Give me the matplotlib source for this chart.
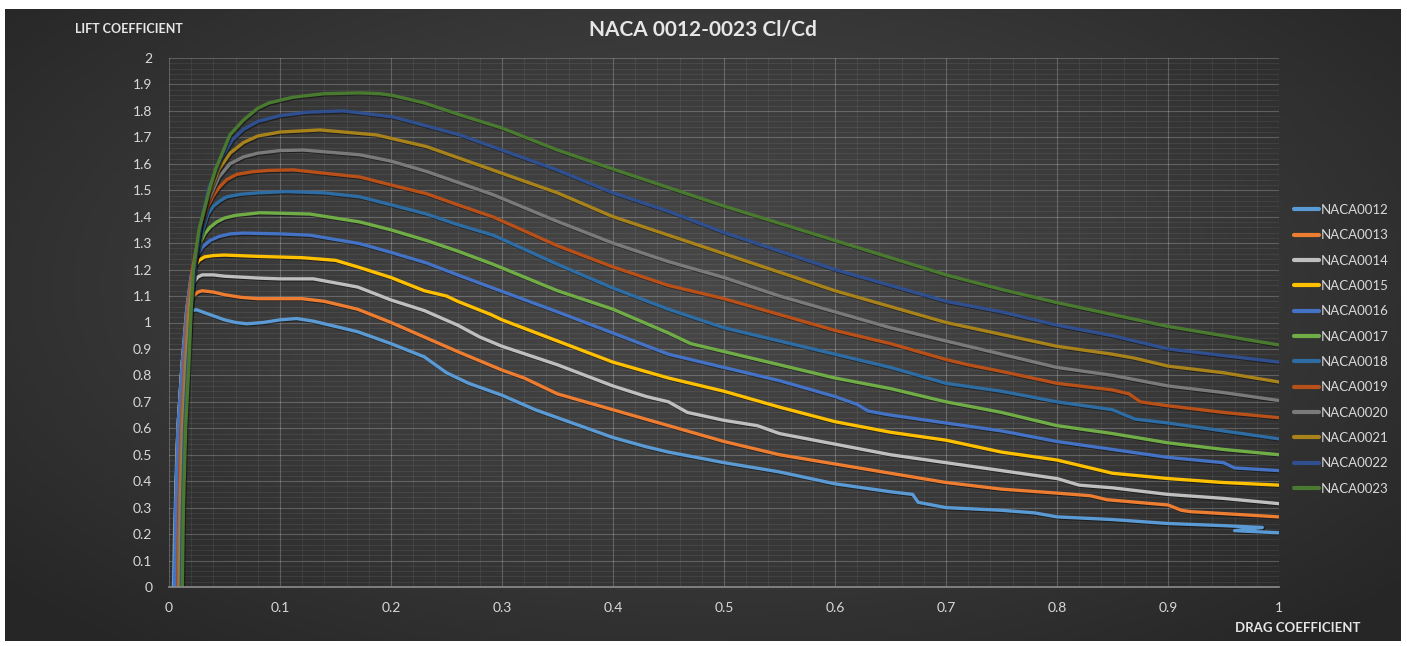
import numpy as np
import matplotlib.pyplot as plt
from matplotlib import patheffects as pe
from matplotlib.colors import LinearSegmentedColormap
from matplotlib.ticker import AutoMinorLocator, FuncFormatter

plt.rcParams['font.family'] = ['Lato', 'DejaVu Sans']

# values (drag coefficient, lift coefficient)
series_names = ["NACA0012", "NACA0013", "NACA0014", "NACA0015", "NACA0016", "NACA0017",
                "NACA0018", "NACA0019", "NACA0020", "NACA0021", "NACA0022", "NACA0023"]
colors = ["#5b9bd5", "#ed7d31", "#bfbfbf", "#ffc000", "#4472c4", "#70ad47",
          "#2e6da4", "#b8501a", "#7a7a7a", "#a8821a", "#2f4f8f", "#4a7a30"]

cd_0012 = [0.004, 0.005, 0.007, 0.011, 0.015, 0.018, 0.02, 0.025, 0.03, 0.04, 0.05, 0.06, 0.07, 0.085, 0.1,
           0.115, 0.13, 0.15, 0.17, 0.2, 0.23, 0.25, 0.27, 0.3, 0.33, 0.35, 0.37, 0.4, 0.43, 0.45, 0.5,
           0.55, 0.6, 0.65, 0.67, 0.675, 0.7, 0.75, 0.78, 0.8, 0.85, 0.9, 0.95, 0.985, 0.96, 1.0]
cl_0012 = [0, 0.2, 0.5, 0.8, 0.97, 1.02, 1.045, 1.048, 1.04, 1.025, 1.01, 1.0, 0.995, 1.0, 1.01,
           1.015, 1.005, 0.985, 0.965, 0.92, 0.87, 0.81, 0.77, 0.725, 0.67, 0.64, 0.61, 0.565, 0.53, 0.51, 0.47,
           0.435, 0.39, 0.36, 0.35, 0.32, 0.3, 0.29, 0.28, 0.265, 0.255, 0.24, 0.232, 0.225, 0.213, 0.205]

cd_0013 = [0.007, 0.008, 0.01, 0.013, 0.017, 0.02, 0.022, 0.026, 0.03, 0.04, 0.05, 0.065, 0.08, 0.12, 0.14,
           0.17, 0.2, 0.23, 0.26, 0.3, 0.32, 0.335, 0.35, 0.4, 0.45, 0.5, 0.55, 0.6, 0.65, 0.7, 0.75,
           0.8, 0.83, 0.845, 0.9, 0.912, 0.92, 1.0]
cl_0013 = [0, 0.3, 0.6, 0.85, 1.02, 1.08, 1.1, 1.115, 1.12, 1.115, 1.105, 1.095, 1.09, 1.09, 1.08,
           1.05, 1.0, 0.945, 0.89, 0.82, 0.79, 0.76, 0.73, 0.67, 0.61, 0.55, 0.5, 0.465, 0.43, 0.395, 0.37,
           0.355, 0.345, 0.33, 0.31, 0.29, 0.285, 0.265]

cd_0014 = [0.005, 0.006, 0.008, 0.012, 0.016, 0.019, 0.022, 0.026, 0.03, 0.04, 0.05, 0.08, 0.1, 0.13, 0.17,
           0.2, 0.23, 0.26, 0.28, 0.3, 0.35, 0.4, 0.43, 0.45, 0.467, 0.5, 0.53, 0.55, 0.6, 0.65, 0.7,
           0.75, 0.8, 0.82, 0.85, 0.9, 0.95, 1.0]
cl_0014 = [0, 0.3, 0.6, 0.85, 1.02, 1.1, 1.15, 1.172, 1.18, 1.18, 1.175, 1.168, 1.165, 1.165, 1.134,
           1.085, 1.045, 0.99, 0.945, 0.91, 0.84, 0.76, 0.72, 0.7, 0.66, 0.63, 0.61, 0.58, 0.54, 0.5, 0.47,
           0.44, 0.41, 0.385, 0.375, 0.35, 0.335, 0.315]

cd_0015 = [0.005, 0.006, 0.008, 0.012, 0.016, 0.02, 0.023, 0.027, 0.032, 0.04, 0.05, 0.08, 0.12, 0.15, 0.17,
           0.2, 0.23, 0.25, 0.26, 0.29, 0.3, 0.35, 0.4, 0.45, 0.5, 0.55, 0.6, 0.65, 0.7, 0.75, 0.8,
           0.83, 0.85, 0.9, 0.95, 1.0]
cl_0015 = [0, 0.3, 0.6, 0.85, 1.05, 1.17, 1.21, 1.235, 1.248, 1.253, 1.255, 1.25, 1.245, 1.235, 1.21,
           1.17, 1.12, 1.1, 1.08, 1.03, 1.01, 0.93, 0.85, 0.79, 0.74, 0.68, 0.625, 0.585, 0.555, 0.51, 0.48,
           0.45, 0.43, 0.41, 0.395, 0.385]

cd_0016 = [0.005, 0.006, 0.008, 0.012, 0.016, 0.02, 0.025, 0.03, 0.037, 0.045, 0.055, 0.067, 0.1, 0.127,
           0.172, 0.2, 0.232, 0.26, 0.292, 0.35, 0.4, 0.45, 0.5, 0.55, 0.6, 0.62, 0.63, 0.65, 0.7, 0.75,
           0.8, 0.85, 0.9, 0.95, 0.96, 1.0]
cl_0016 = [0, 0.3, 0.6, 0.85, 1.05, 1.18, 1.25, 1.285, 1.31, 1.325, 1.335, 1.338, 1.335, 1.33,
           1.298, 1.265, 1.225, 1.18, 1.13, 1.04, 0.96, 0.88, 0.83, 0.78, 0.72, 0.69, 0.665, 0.65, 0.62, 0.59,
           0.55, 0.52, 0.49, 0.47, 0.45, 0.44]

cd_0017 = [0.009, 0.01, 0.012, 0.015, 0.018, 0.022, 0.028, 0.032, 0.037, 0.043, 0.05, 0.06, 0.082, 0.127,
           0.172, 0.2, 0.232, 0.26, 0.292, 0.35, 0.4, 0.45, 0.47, 0.5, 0.55, 0.6, 0.65, 0.7, 0.75, 0.8,
           0.85, 0.9, 0.95, 1.0]
cl_0017 = [0, 0.3, 0.6, 0.85, 1.05, 1.2, 1.3, 1.335, 1.36, 1.38, 1.395, 1.405, 1.415, 1.41,
           1.38, 1.35, 1.31, 1.27, 1.22, 1.12, 1.05, 0.96, 0.92, 0.89, 0.84, 0.79, 0.75, 0.7, 0.66, 0.61,
           0.58, 0.545, 0.52, 0.5]

cd_0018 = [0.009, 0.01, 0.012, 0.015, 0.018, 0.022, 0.028, 0.035, 0.04, 0.046, 0.052, 0.065, 0.08, 0.106,
           0.14, 0.172, 0.2, 0.232, 0.26, 0.292, 0.35, 0.4, 0.45, 0.5, 0.55, 0.6, 0.65, 0.7, 0.75, 0.8,
           0.85, 0.87, 0.9, 0.95, 1.0]
cl_0018 = [0, 0.3, 0.6, 0.85, 1.05, 1.2, 1.32, 1.41, 1.44, 1.46, 1.475, 1.485, 1.49, 1.495,
           1.49, 1.475, 1.445, 1.41, 1.37, 1.33, 1.22, 1.13, 1.05, 0.98, 0.93, 0.88, 0.83, 0.77, 0.74, 0.7,
           0.67, 0.635, 0.62, 0.59, 0.56]

cd_0019 = [0.008, 0.009, 0.011, 0.014, 0.017, 0.021, 0.027, 0.035, 0.04, 0.045, 0.052, 0.061, 0.075, 0.09,
           0.112, 0.172, 0.2, 0.232, 0.26, 0.292, 0.35, 0.4, 0.45, 0.5, 0.55, 0.6, 0.65, 0.7, 0.72, 0.75,
           0.8, 0.85, 0.865, 0.875, 0.9, 0.95, 1.0]
cl_0019 = [0, 0.3, 0.6, 0.85, 1.05, 1.2, 1.33, 1.44, 1.48, 1.51, 1.54, 1.56, 1.57, 1.575,
           1.577, 1.55, 1.52, 1.487, 1.445, 1.399, 1.29, 1.21, 1.14, 1.09, 1.03, 0.97, 0.92, 0.86, 0.84, 0.815,
           0.77, 0.745, 0.73, 0.7, 0.685, 0.66, 0.64]

cd_0020 = [0.009, 0.01, 0.012, 0.015, 0.018, 0.022, 0.027, 0.035, 0.045, 0.055, 0.067, 0.08, 0.1, 0.121,
           0.172, 0.2, 0.232, 0.26, 0.292, 0.35, 0.4, 0.45, 0.5, 0.55, 0.6, 0.65, 0.7, 0.75, 0.8, 0.85,
           0.9, 0.95, 1.0]
cl_0020 = [0, 0.3, 0.6, 0.85, 1.05, 1.2, 1.34, 1.46, 1.55, 1.6, 1.626, 1.64, 1.65, 1.652,
           1.634, 1.61, 1.571, 1.53, 1.483, 1.382, 1.3, 1.23, 1.17, 1.1, 1.04, 0.98, 0.93, 0.88, 0.83, 0.8,
           0.76, 0.735, 0.705]

cd_0021 = [0.01, 0.011, 0.013, 0.016, 0.019, 0.023, 0.028, 0.035, 0.045, 0.055, 0.067, 0.08, 0.1, 0.136,
           0.187, 0.232, 0.292, 0.35, 0.4, 0.45, 0.5, 0.55, 0.6, 0.65, 0.7, 0.75, 0.8, 0.85, 0.87, 0.9,
           0.95, 1.0]
cl_0021 = [0, 0.3, 0.6, 0.85, 1.05, 1.22, 1.36, 1.48, 1.58, 1.64, 1.68, 1.705, 1.72, 1.728,
           1.709, 1.665, 1.576, 1.49, 1.4, 1.33, 1.26, 1.19, 1.12, 1.06, 1.0, 0.955, 0.91, 0.88, 0.865, 0.835,
           0.81, 0.775]

cd_0022 = [0.011, 0.012, 0.014, 0.017, 0.02, 0.024, 0.029, 0.036, 0.047, 0.057, 0.067, 0.08, 0.1, 0.125,
           0.157, 0.202, 0.262, 0.35, 0.4, 0.45, 0.5, 0.55, 0.6, 0.65, 0.7, 0.75, 0.8, 0.85, 0.9, 0.95, 1.0]
cl_0022 = [0, 0.3, 0.6, 0.85, 1.05, 1.23, 1.38, 1.51, 1.62, 1.69, 1.73, 1.76, 1.782, 1.795,
           1.8, 1.777, 1.709, 1.576, 1.49, 1.42, 1.34, 1.27, 1.2, 1.14, 1.08, 1.04, 0.99, 0.95, 0.9, 0.875, 0.85]

cd_0023 = [0.012, 0.013, 0.015, 0.018, 0.02, 0.022, 0.027, 0.032, 0.037, 0.042, 0.048, 0.055, 0.067, 0.08,
           0.09, 0.112, 0.14, 0.172, 0.19, 0.202, 0.23, 0.262, 0.3, 0.35, 0.4, 0.45, 0.5, 0.55, 0.6, 0.65,
           0.7, 0.75, 0.8, 0.85, 0.9, 0.95, 1.0]
cl_0023 = [0, 0.3, 0.6, 0.85, 1.05, 1.2, 1.35, 1.43, 1.512, 1.58, 1.64, 1.71, 1.765, 1.81,
           1.83, 1.852, 1.865, 1.868, 1.865, 1.858, 1.83, 1.785, 1.735, 1.652, 1.58, 1.51, 1.44, 1.375, 1.31,
           1.245, 1.18, 1.125, 1.075, 1.03, 0.985, 0.95, 0.915]

all_cd = [cd_0012, cd_0013, cd_0014, cd_0015, cd_0016, cd_0017, cd_0018, cd_0019, cd_0020, cd_0021, cd_0022, cd_0023]
all_cl = [cl_0012, cl_0013, cl_0014, cl_0015, cl_0016, cl_0017, cl_0018, cl_0019, cl_0020, cl_0021, cl_0022, cl_0023]

W, H = 1407, 646
fig = plt.figure(figsize=(W / 100, H / 100), dpi=100)
fig.patch.set_facecolor('white')

# dark radial-gradient chart background
bg = fig.add_axes([5 / W, 5 / H, (1401 - 5) / W, (639 - 7) / H])
yy, xx = np.mgrid[-1:1:200j, -1:1:400j]
r = np.clip(np.sqrt((xx * 0.9) ** 2 + (yy * 0.8 + 0.1) ** 2), 0, 1.2)
cmap = LinearSegmentedColormap.from_list('bg', ['#484848', '#3a3a3a', '#262626'])
bg.imshow(r, cmap=cmap, aspect='auto', extent=[0, 1, 0, 1])
bg.axis('off')

ax = fig.add_axes([169 / W, 1 - 587 / H, 1110 / W, (587 - 58) / H])
ax.set_facecolor('none')

shadow = [pe.SimpleLineShadow(offset=(0.8, -0.8), alpha=0.45, shadow_color='black'), pe.Normal()]
for name, col, cd, cl in zip(series_names, colors, all_cd, all_cl):
    ax.plot(cd, cl, color=col, lw=2.4, label=name, solid_capstyle='round',
            solid_joinstyle='round', path_effects=shadow)

ax.set_xlim(0, 1)
ax.set_ylim(0, 2)
ax.set_xticks(np.arange(0, 1.01, 0.1))
ax.set_yticks(np.arange(0, 2.01, 0.1))
fmt = FuncFormatter(lambda v, p: f'{round(v, 2):g}')
ax.xaxis.set_major_formatter(fmt)
ax.yaxis.set_major_formatter(fmt)
ax.xaxis.set_minor_locator(AutoMinorLocator(5))
ax.yaxis.set_minor_locator(AutoMinorLocator(5))
ax.tick_params(which='both', length=0, colors='#d9d9d9', labelsize=10)
ax.tick_params(axis='x', pad=11)
ax.tick_params(axis='y', pad=12)
ax.grid(which='major', color='white', alpha=0.22, lw=0.8)
ax.grid(which='minor', color='white', alpha=0.08, lw=0.6)
ax.set_axisbelow(True)
for s in ['top', 'right', 'left']:
    ax.spines[s].set_visible(False)
ax.spines['bottom'].set_color('#8c8c8c')
ax.spines['bottom'].set_linewidth(1.2)

fig.text(703 / W, 1 - 30 / H, 'NACA 0012-0023 Cl/Cd', ha='center', va='center',
         fontsize=15, fontweight='bold', color='#e6e6e6')
fig.text(75 / W, 1 - 29 / H, 'LIFT COEFFICIENT', ha='left', va='center',
         fontsize=9, fontweight='bold', color='#e6e6e6')
fig.text(1235 / W, 1 - 628 / H, 'DRAG COEFFICIENT', ha='left', va='center',
         fontsize=9.5, fontweight='bold', color='#e6e6e6')

leg = ax.legend(loc='upper left', bbox_to_anchor=(1294 / W, 1 - 204 / H), bbox_transform=fig.transFigure,
                frameon=False, fontsize=9.5, labelcolor='#d9d9d9', handlelength=1.9,
                handletextpad=0.1, labelspacing=1.01, borderpad=0, borderaxespad=0)
for h in leg.get_lines():
    h.set_linewidth(3)
    h.set_path_effects([])

fig.savefig('out.png', dpi=100)
